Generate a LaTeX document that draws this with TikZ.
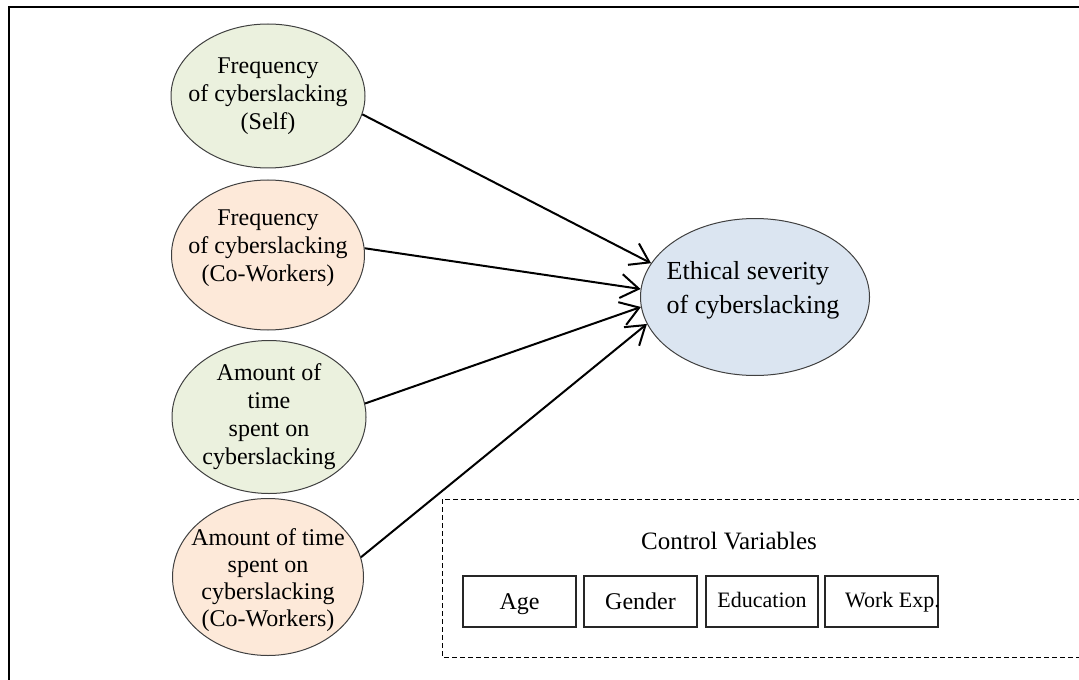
\documentclass[tikz,border=0pt]{standalone}
\usepackage{fontspec}
\setmainfont{Liberation Serif}
\usetikzlibrary{shapes.geometric,arrows.meta}
\definecolor{cgreen}{HTML}{EBF1DE}
\definecolor{corange}{HTML}{FDE9D9}
\definecolor{cblue}{HTML}{DBE5F1}
\tikzset{
  ell/.style={ellipse, draw=black!75, line width=0.5pt, inner sep=0pt},
  txt/.style={align=center, inner sep=0pt, font=\fontsize{12}{14}\selectfont},
  boxlbl/.style={inner sep=0pt, text height=8.5pt, text depth=2.5pt, font=\fontsize{12}{14}\selectfont},
  arr/.style={line width=1pt, -{Straight Barb[length=9pt,width=12pt,line width=1pt]}},
  cvbox/.style={draw=black!85, line width=0.6pt, minimum width=56.5pt, minimum height=25.5pt, inner sep=0pt},
}
\begin{document}
\begin{tikzpicture}[x=0.5pt,y=-0.5pt]
\useasboundingbox (0,0) rectangle (1079,679);
\clip (0,0) rectangle (1079,679);
% frame
\draw[line width=1.4pt] (1090,7) -- (9,7) -- (9,690);
% ellipses
\node[ell, fill=cgreen, minimum width=97pt, minimum height=72pt] (e1) at (268,96) {};
\node[ell, fill=corange, minimum width=96.5pt, minimum height=75pt] (e2) at (268,255) {};
\node[ell, fill=cgreen, minimum width=97pt, minimum height=76.5pt] (e3) at (269,417) {};
\node[ell, fill=corange, minimum width=95.5pt, minimum height=78.5pt] (e4) at (268,577) {};
\node[ell, fill=cblue, minimum width=114.5pt, minimum height=78.5pt] (t) at (755,297) {};
% texts
\node[txt] (e1t) at (268,96) {Frequency\\of cyberslacking\\(Self)};
\node[txt] (e2t) at (268,248) {Frequency\\of cyberslacking\\(Co-Workers)};
\node[txt] (e3t) at (269,417) {Amount of\\time\\spent on\\cyberslacking};
\node[txt, font=\fontsize{12}{13.5}\selectfont] (e4t) at (268,580) {Amount of time\\spent on\\cyberslacking\\(Co-Workers)};
\node[txt, align=left, font=\fontsize{13}{17}\selectfont] (tt) at (753,290) {Ethical severity\\of cyberslacking};
% arrows
\draw[arr] (e1.-11) -- (t.162);
\draw[arr] (e2.4) -- (t.176);
\draw[arr] (e3.8) -- (t.185);
\draw[arr] (e4.12) -- (t.194);
% control variables
\draw[line width=0.5pt, dash pattern=on 2.5pt off 1.5pt] (1090,499) -- (442,499) -- (442,657) -- (1090,657);
\node[txt, font=\fontsize{12.5}{14}\selectfont] (cv) at (729,541) {Control Variables};
\node[cvbox, label={[boxlbl, yshift=-1pt]center:Age}] (age) at (519.5,601.5) {};
\node[cvbox, label={[boxlbl, yshift=-1pt]center:Gender}] (gen) at (640.5,601.5) {};
\node[cvbox, minimum width=56pt, label={[boxlbl, font=\fontsize{11}{13}\selectfont]center:Education}] (edu) at (762,601.5) {};
\node[cvbox, label={[boxlbl, font=\fontsize{11}{13}\selectfont, xshift=5.5pt]center:Work Exp.}] (wex) at (881.5,601.5) {};
\end{tikzpicture}
\end{document}
